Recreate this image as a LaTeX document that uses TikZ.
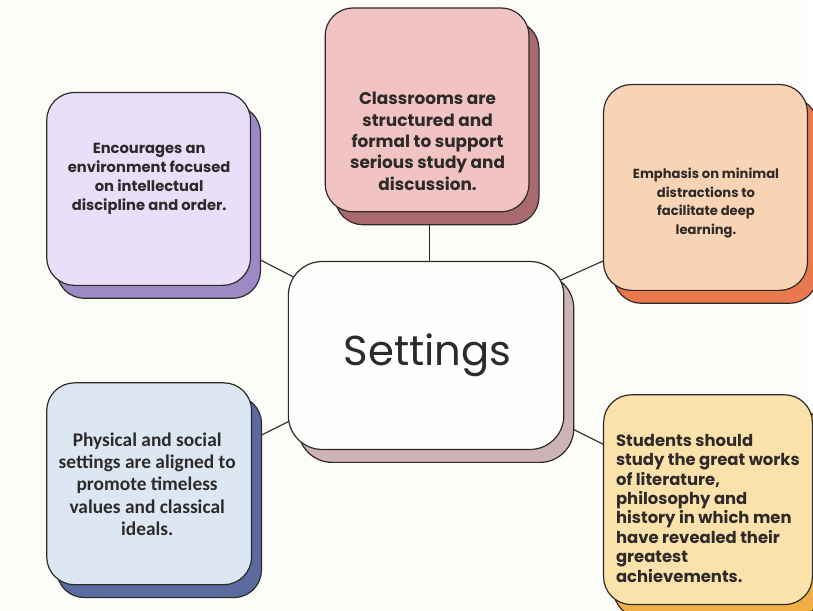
\documentclass[tikz,border=0pt]{standalone}
\usepackage{fontspec}
\setmainfont{Poppins}
\newfontfamily\plainsans{Carlito}
\usetikzlibrary{shadows}
\pgfdeclarelayer{bg}
\pgfsetlayers{bg,main}
\definecolor{paper}{HTML}{FCFCF8}
\definecolor{ink}{HTML}{2E2A2A}
\definecolor{purpfill}{HTML}{EADFF8}
\definecolor{purpshade}{HTML}{9D8AC4}
\definecolor{pinkfill}{HTML}{F1C3C3}
\definecolor{pinkshade}{HTML}{A86A6E}
\definecolor{peachfill}{HTML}{F9D4B4}
\definecolor{peachshade}{HTML}{E9794D}
\definecolor{bluefill}{HTML}{DDE7F3}
\definecolor{blueshade}{HTML}{5B6B9F}
\definecolor{sandfill}{HTML}{FBE2AA}
\definecolor{sandshade}{HTML}{F0AE45}
\definecolor{hubfill}{HTML}{FEFEFC}
\definecolor{hubshade}{HTML}{CDB3B5}

\begin{document}
\begin{tikzpicture}[x=1pt, y=-1pt,
  card/.style 2 args={draw=ink, line width=1.2pt, fill=#1, rounded corners=28pt, inner sep=0pt,
    copy shadow={shadow xshift=10pt, shadow yshift=-13pt, fill=#2, draw=ink, line width=1.2pt}},
  link/.style={draw=ink, line width=1.1pt}]
\begin{pgfonlayer}{bg}
\path[use as bounding box, fill=paper] (0,0) rectangle (813,614);
\end{pgfonlayer}
\node[card={hubfill}{hubshade}, rounded corners=34pt, minimum width=277pt, minimum height=189pt] (hub) at (428.5,357.5) {};
\node[text=ink, font=\fontsize{42}{50}\selectfont] (hub-t) at (430,357) {Settings};
\node[card={purpfill}{purpshade}, minimum width=205pt, minimum height=194pt] (enc) at (149.5,190) {};
\node[card={pinkfill}{pinkshade}, minimum width=205pt, minimum height=205pt] (cls) at (429.5,110.5) {};
\node[card={peachfill}{peachshade}, minimum width=205pt, minimum height=207pt] (emp) at (709.5,188.5) {};
\node[card={bluefill}{blueshade}, minimum width=206pt, minimum height=203pt] (phy) at (150,486.5) {};
\node[card={sandfill}{sandshade}, minimum width=210pt, minimum height=211pt] (stu) at (712,502.5) {};
\node[text=ink, align=center, font=\plainsans\bfseries\fontsize{19.5}{22.5}\selectfont] (phy-t) at (148,487) {Physical and social\\settings are aligned to\\promote timeless\\values and classical\\ideals.};
\node[text=ink, align=center, font=\bfseries\fontsize{14.8}{19}\selectfont] (enc-t) at (150,180) {Encourages an\\environment focused\\on intellectual\\discipline and order.};
\node[text=ink, align=center, font=\bfseries\fontsize{17}{21.5}\selectfont] (cls-t) at (430,142) {Classrooms are\\structured and\\formal to support\\serious study and\\discussion.};
\node[text=ink, align=center, font=\bfseries\fontsize{13.2}{18.7}\selectfont] (emp-t) at (710,204) {Emphasis on minimal\\distractions to\\facilitate deep\\learning.};
\node[text=ink, align=left, anchor=west, font=\bfseries\fontsize{16.5}{19.5}\selectfont] (stu-t) at (616,511) {Students should\\study the great works\\of literature,\\philosophy and\\history in which men\\have revealed their\\greatest\\achievements.};
\begin{pgfonlayer}{bg}
\draw[link] ([shift={(90,60)}]enc.center) -- ([shift={(-108,-66)}]hub.center);
\draw[link] ([shift={(2.5,70)}]cls.center) -- ([shift={(3.5,-57.5)}]hub.center);
\draw[link] ([shift={(-79.5,63.5)}]emp.center) -- ([shift={(111.5,-65.3)}]hub.center);
\draw[link] ([shift={(90,-37.5)}]phy.center) -- ([shift={(-108.5,51.5)}]hub.center);
\draw[link] ([shift={(126.5,63.5)}]hub.center) -- ([shift={(-82,-44)}]stu.center);
\end{pgfonlayer}
\end{tikzpicture}
\end{document}
